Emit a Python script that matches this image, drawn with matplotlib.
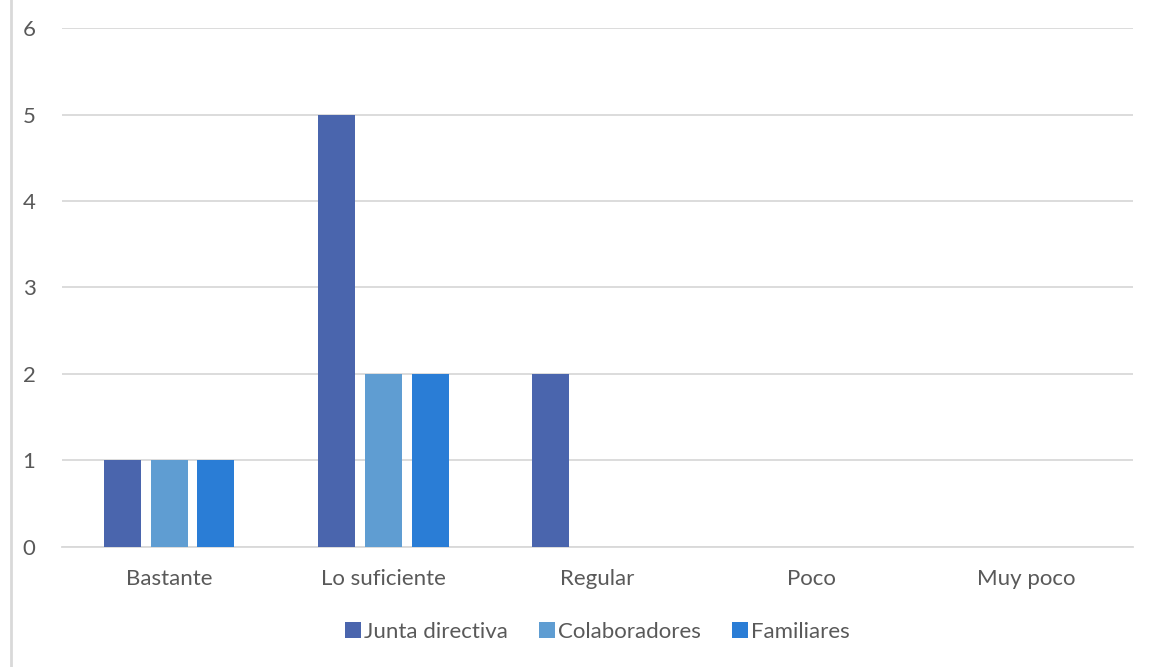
import numpy as np
import matplotlib
matplotlib.use("Agg")
import matplotlib.pyplot as plt
from matplotlib.lines import Line2D

plt.rcParams['font.family'] = ['Lato', 'DejaVu Sans']

categorias = ['Bastante', 'Lo suficiente', 'Regular', 'Poco', 'Muy poco']
junta_directiva = [1, 5, 2, 0, 0]
colaboradores = [1, 2, 0, 0, 0]
familiares = [1, 2, 0, 0, 0]

series = [('Junta directiva', junta_directiva, '#4A65AD'),
          ('Colaboradores', colaboradores, '#5F9DD2'),
          ('Familiares', familiares, '#2A7DD6')]

fig = plt.figure(figsize=(11.6, 6.67), dpi=100)
ax = fig.add_axes([0.0534, 0.18, 0.9233, 0.778])

x = np.arange(len(categorias))
ancho = 0.173
paso = 0.219
for i, (nombre, vals, color) in enumerate(series):
    ax.bar(x + (i - 1) * paso, vals, width=ancho, color=color, label=nombre, zorder=3)

ax.set_xlim(-0.5, len(categorias) - 0.5)
ax.set_ylim(0, 6)
ax.set_yticks(range(0, 7))
ax.set_xticks(x)
ax.set_xticklabels(categorias)
ax.grid(axis='y', color='#D9D9D9', linewidth=1.3, zorder=0)
for s in ['top', 'right', 'left']:
    ax.spines[s].set_visible(False)
ax.spines['bottom'].set_color('#D9D9D9')
ax.spines['bottom'].set_linewidth(1.3)
ax.tick_params(axis='both', length=0, labelsize=16, labelcolor='#595959')
ax.tick_params(axis='y', pad=19)
ax.tick_params(axis='x', pad=16)

ax.legend(loc='center', bbox_to_anchor=(0.5, -0.164), ncol=3, frameon=False,
          fontsize=16, labelcolor='#595959', handlelength=0.7, handleheight=0.7,
          handletextpad=0.15, columnspacing=1.4)

# borde izquierdo del marco
fig.add_artist(Line2D([0.0095, 0.0095], [0, 1], color='#D9D9D9', linewidth=2))

fig.savefig('out.png', dpi=100)
